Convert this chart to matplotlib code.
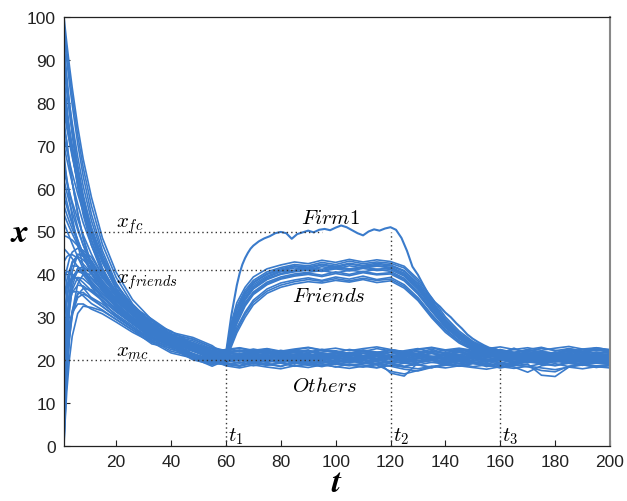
import matplotlib
matplotlib.use('Agg')
import matplotlib.pyplot as plt

plt.rcParams['mathtext.fontset'] = 'cm'
plt.rcParams['font.family'] = ['Liberation Sans', 'DejaVu Sans']

# ---------------- data ----------------
t_early = [1, 2, 3, 4, 6, 8, 11, 15, 20, 26, 33, 40, 48, 55]
t_late_others = list(range(60, 201, 5))
t_late_friends = [60, 62, 64, 67] + list(range(70, 201, 5))
t_late_firm = [60, 61, 62, 63, 64, 65, 66, 67, 68, 69] + list(range(70, 201, 2))

others_early = [
    [100, 94, 88.5, 83.5, 74.5, 66.9, 58, 48.5, 40.5, 34.1, 29.4, 25.8, 23.9, 21.9],
    [92, 84.5, 78, 72.5, 63, 55.8, 48, 40.7, 35.1, 30.7, 26.8, 25.3, 22.5, 21.4],
    [84, 78, 72.8, 68.3, 60.7, 54.6, 48, 41.2, 35.8, 31.6, 28.4, 25.3, 24.1, 22.2],
    [76, 70.5, 65.7, 61.4, 54.3, 48.6, 42.4, 37.1, 32.7, 29.0, 25.4, 24.1, 21.3, 20.2],
    [68, 62.2, 57.4, 53.3, 46.9, 42, 37.1, 33.6, 30.4, 27.6, 24.3, 23.3, 20.5, 19.4],
    [60, 57, 54.4, 52, 47.8, 44.2, 40.1, 36, 32.5, 29.2, 26.4, 23.7, 22.5, 20.6],
    [52, 50.3, 48.7, 47.1, 44.1, 41.3, 37.9, 34.9, 31.6, 28.5, 25.0, 23.8, 20.9, 19.8],
    [46, 45.3, 44.5, 43.7, 41.8, 39.9, 37.5, 34.8, 31.9, 29.0, 26.4, 23.7, 22.5, 20.6],
    [40, 40.6, 40.6, 40.1, 38.7, 36.9, 34.5, 32.5, 30.1, 27.5, 24.3, 23.3, 20.5, 19.4],
    [34, 38.6, 41, 42, 41.9, 40.6, 38.4, 35.5, 32.5, 29.5, 26.9, 24.1, 22.9, 21],
    [28, 36.2, 40.7, 43, 44.2, 43.4, 41.4, 37.8, 34.3, 31, 27.5, 26.1, 23.3, 22.2],
    [22, 33, 39.2, 42.5, 44.7, 44.2, 42.3, 38.5, 34.9, 31.5, 28.7, 25.7, 24.5, 22.6],
    [16, 28.2, 35.1, 38.9, 41.4, 41.1, 39.3, 36.3, 33.1, 30, 26.6, 25.3, 22.5, 21.4],
    [10, 26.2, 35.5, 40.7, 44.6, 44.8, 43.2, 39.3, 35.5, 32, 29.1, 26.1, 24.9, 23],
    [4, 21.4, 31.4, 37.1, 41.4, 41.7, 40.2, 37, 33.7, 30.5, 27.0, 25.7, 22.9, 21.8],
    [0, 16.6, 26.2, 31.5, 35.6, 35.8, 34.2, 32.5, 30.1, 27.5, 25.1, 22.5, 21.3, 19.4],
    [82, 77.7, 73.7, 70.1, 63.5, 57.8, 51, 43.9, 37.6, 32.4, 27.7, 25.8, 22.7, 21.5],
    [62, 59.2, 56.7, 54.4, 50.3, 46.9, 42.9, 38.2, 34.3, 30.7, 27.8, 24.9, 23.7, 21.8],
    [35, 37.3, 38.6, 39.2, 39.2, 38.1, 36.2, 34, 31.3, 28.5, 25.2, 24.1, 21.3, 20.2],
    [18, 29, 35.2, 38.5, 40.7, 40.2, 38.3, 35.5, 32.5, 29.5, 26.1, 24.9, 22.1, 21],
    [2, 15.7, 25, 31.2, 37.8, 40, 40.1, 37.5, 34.3, 31, 28.2, 25.3, 24.1, 22.2],
    [98, 92, 86.5, 81.5, 72.5, 64.9, 56, 47, 39.3, 33.1, 28.6, 25.0, 23.2, 21.2],
    [94, 86.4, 79.8, 74, 64.5, 57.1, 49.2, 41.5, 35.7, 31.3, 27.6, 25.0, 23.6, 21.8],
    [90, 84.7, 79.8, 75.3, 67.4, 60.6, 52.5, 44.6, 37.7, 32.1, 27.5, 24.5, 22.4, 20.7],
    [86, 79.5, 73.7, 68.7, 60.4, 53.9, 46.8, 40.1, 34.8, 30.6, 27.4, 24.6, 23.2, 21.4],
    [78, 74.2, 70.7, 67.4, 61.5, 56.4, 50.3, 43.4, 37.5, 32.5, 28.1, 25.9, 23.3, 21.9],
    [74, 71.2, 66.1, 61.6, 54.2, 48.3, 41.8, 36.6, 32.2, 28.5, 25.6, 23.0, 21.6, 19.8],
    [70, 66.9, 64, 61.3, 56.4, 52, 46.8, 41, 35.9, 31.5, 27.4, 25.4, 22.8, 21.4],
    [66, 62.3, 59, 56.1, 51, 46.8, 42, 37.4, 33.3, 29.8, 26.8, 24.2, 22.9, 21],
    [58, 55.8, 53.7, 51.7, 48.1, 44.7, 40.7, 36.7, 32.9, 29.4, 25.8, 24.1, 21.5, 20.2],
    [54, 52.4, 50.9, 49.5, 46.8, 44.3, 41.3, 37.4, 33.9, 30.6, 27.7, 25.1, 23.6, 21.8],
    [30, 34.7, 37.7, 39.5, 40.8, 40.4, 39, 36.2, 33.1, 30, 27.3, 24.6, 23.2, 21.4],
    [12, 25, 32.4, 36.4, 39.3, 39, 37.3, 34.8, 31.9, 29, 26.3, 23.8, 22.4, 20.6],
]

others_late = [
    [21.3, 20.8, 21.5, 20.6, 21.9, 20.7, 21.2, 20.1, 21.0, 21.6, 20.4, 21.1, 20.2, 21.4, 20.6, 21.8, 20.3, 21.2, 20.5, 21.7, 20.9, 20.1, 21.5, 20.6, 21.9, 20.8, 21.3, 20.2, 21.0],
    [20.4, 19.8, 20.6, 19.5, 20.2, 19.1, 20.5, 19.7, 20.9, 19.9, 19.2, 20.4, 19.6, 20.8, 19.4, 20.1, 19.0, 19.9, 20.7, 19.5, 20.3, 19.2, 20.0, 19.6, 20.5, 19.3, 20.1, 19.8, 20.4],
    [21.6, 22.2, 21.3, 22.5, 21.1, 21.9, 22.4, 21.2, 21.8, 20.9, 22.1, 21.5, 22.3, 21.0, 21.7, 22.6, 21.4, 22.0, 21.1, 22.3, 21.6, 22.8, 21.5, 22.1, 21.3, 22.4, 21.8, 22.6, 21.9],
    [19.6, 20.3, 19.4, 19.9, 20.5, 19.2, 19.8, 20.4, 19.5, 20.1, 19.3, 19.9, 17.0, 16.3, 19.4, 20.0, 19.3, 20.2, 19.6, 19.1, 20.0, 19.4, 20.3, 19.0, 19.7, 20.2, 19.5, 19.9, 19.6],
    [18.9, 19.5, 18.7, 19.3, 18.5, 19.6, 18.8, 19.2, 18.4, 19.1, 18.9, 18.3, 19.4, 18.6, 19.0, 18.2, 19.3, 18.7, 19.5, 18.5, 19.1, 18.4, 17.2, 18.7, 19.2, 18.5, 19.0, 18.3, 18.8],
    [20.9, 20.2, 21.0, 20.4, 20.8, 19.9, 20.6, 21.2, 20.3, 20.7, 20.0, 21.1, 20.5, 20.2, 20.9, 20.3, 20.8, 21.3, 20.4, 20.0, 20.7, 21.2, 20.3, 20.9, 20.1, 20.6, 21.1, 20.4, 20.8],
    [19.5, 20.0, 19.2, 19.8, 19.4, 20.1, 19.3, 19.7, 19.0, 19.6, 19.9, 19.2, 19.7, 19.4, 18.9, 19.5, 19.8, 19.1, 19.6, 19.3, 18.7, 19.4, 19.9, 19.2, 18.8, 19.6, 19.1, 19.5, 19.2],
    [20.3, 21.0, 20.6, 21.3, 20.5, 20.9, 21.4, 20.7, 21.2, 20.4, 20.9, 21.5, 20.8, 20.3, 21.1, 20.6, 21.3, 20.9, 20.2, 21.0, 20.5, 21.4, 20.7, 21.1, 20.4, 21.2, 20.8, 21.5, 20.9],
    [19.0, 18.6, 19.3, 18.8, 19.5, 18.7, 19.1, 18.5, 19.2, 18.9, 18.4, 19.0, 18.6, 17.9, 17.5, 18.3, 18.8, 19.2, 18.5, 18.9, 18.2, 18.7, 19.1, 16.5, 16.2, 18.4, 18.9, 18.5, 18.7],
    [20.6, 21.3, 20.8, 21.6, 20.9, 21.4, 21.0, 21.7, 21.2, 20.8, 21.5, 21.1, 21.8, 21.3, 20.9, 21.6, 21.2, 21.9, 21.4, 21.0, 21.7, 21.3, 22.0, 21.5, 21.1, 21.8, 21.4, 21.9, 21.6],
    [21.8, 21.2, 22.0, 21.5, 22.3, 21.7, 21.1, 21.9, 22.2, 21.6, 21.0, 21.8, 22.4, 21.9, 21.3, 22.1, 21.6, 21.2, 22.0, 21.7, 22.5, 21.8, 21.3, 22.0, 21.6, 22.7, 22.1, 21.5, 22.2],
    [22.3, 21.9, 22.6, 22.0, 21.5, 22.3, 21.8, 22.5, 22.0, 21.6, 22.4, 21.9, 21.3, 22.2, 22.7, 21.8, 22.4, 21.9, 22.6, 22.1, 21.7, 22.5, 22.0, 22.8, 22.3, 21.9, 22.6, 22.2, 22.5],
    [20.8, 20.1, 20.7, 19.9, 20.4, 20.9, 20.2, 20.6, 19.8, 20.3, 20.8, 20.1, 20.5, 19.7, 20.3, 20.9, 20.0, 20.4, 19.8, 20.6, 20.2, 19.6, 20.4, 20.0, 20.7, 19.9, 20.3, 20.6, 20.1],
    [22.2, 22.8, 22.1, 22.6, 21.9, 22.4, 22.9, 22.3, 21.8, 22.5, 22.0, 22.7, 22.2, 21.7, 22.4, 22.9, 22.1, 22.6, 22.0, 22.8, 22.3, 21.8, 22.5, 23.0, 22.2, 22.7, 22.1, 22.9, 22.4],
    [21.1, 20.6, 21.4, 20.8, 21.2, 20.5, 21.0, 21.5, 20.7, 21.3, 20.6, 21.1, 20.4, 21.0, 21.4, 20.8, 21.2, 20.5, 21.1, 20.7, 21.4, 20.9, 20.5, 21.2, 20.8, 21.5, 20.9, 21.3, 20.7],
    [19.3, 18.8, 19.5, 19.0, 18.6, 19.4, 18.9, 19.6, 19.1, 18.7, 19.3, 18.9, 17.4, 16.8, 17.6, 18.5, 19.0, 18.6, 19.3, 18.8, 19.4, 18.9, 18.5, 19.2, 18.7, 19.3, 18.8, 19.4, 19.0],
    [20.9, 21.5, 20.7, 21.2, 20.5, 21.1, 20.6, 21.4, 20.8, 21.3, 20.5, 21.0, 20.7, 21.5, 20.9, 20.4, 21.2, 20.7, 21.3, 20.6, 21.0, 20.5, 21.2, 20.8, 21.4, 20.6, 21.1, 20.7, 21.2],
    [21.4, 20.9, 21.6, 21.0, 21.5, 21.9, 21.2, 20.8, 21.6, 21.1, 21.7, 21.3, 20.9, 21.5, 21.0, 21.6, 21.2, 21.8, 21.4, 20.9, 21.5, 21.1, 21.7, 21.2, 20.8, 21.4, 21.0, 21.6, 21.3],
    [19.8, 20.4, 19.7, 20.2, 19.5, 20.0, 19.6, 20.3, 19.8, 19.4, 20.1, 19.7, 20.4, 19.9, 19.5, 20.2, 19.8, 19.3, 20.0, 19.6, 20.3, 19.8, 19.4, 20.1, 19.6, 20.2, 19.7, 19.3, 19.9],
    [20.5, 19.9, 20.6, 20.1, 19.7, 20.4, 20.0, 20.7, 20.2, 19.8, 20.5, 20.0, 19.6, 20.3, 19.9, 20.6, 20.1, 19.7, 20.4, 19.9, 20.5, 20.1, 19.6, 20.3, 19.8, 20.5, 20.0, 20.4, 20.1],
    [21.7, 22.1, 21.5, 21.9, 21.3, 21.8, 22.2, 21.6, 21.1, 21.7, 22.0, 21.4, 21.9, 21.5, 22.1, 21.6, 21.2, 21.8, 21.4, 22.0, 21.5, 21.1, 21.7, 21.3, 21.9, 21.5, 22.1, 21.6, 21.9],
    [20.7, 21.3, 20.5, 21.0, 20.3, 21.2, 20.8, 20.2, 20.9, 21.4, 20.6, 21.0, 20.4, 20.9, 21.5, 20.7, 21.1, 20.3, 20.8, 21.3, 20.6, 21.1, 20.4, 21.0, 20.5, 21.3, 20.7, 21.1, 20.5],
    [22.0, 21.4, 22.2, 21.7, 21.2, 22.0, 21.5, 22.3, 21.8, 21.3, 22.1, 21.6, 22.4, 21.9, 21.4, 22.2, 21.7, 22.5, 21.9, 21.4, 22.0, 21.6, 22.3, 21.8, 21.4, 22.1, 21.7, 22.4, 21.9],
    [19.9, 19.3, 20.0, 19.5, 20.3, 19.7, 19.2, 19.9, 19.4, 20.1, 19.6, 19.0, 19.8, 19.3, 20.0, 19.5, 19.1, 19.7, 19.3, 20.0, 19.4, 18.9, 19.6, 19.2, 19.8, 19.3, 19.0, 19.7, 19.4],
    [20.2, 20.8, 20.1, 20.6, 19.9, 20.5, 20.9, 20.3, 20.7, 20.0, 20.6, 20.2, 19.2, 18.4, 19.5, 20.3, 20.7, 20.1, 20.6, 20.0, 20.4, 20.8, 20.2, 20.7, 20.0, 20.5, 20.9, 20.3, 20.6],
    [22.5, 22.9, 22.3, 22.7, 22.1, 22.6, 23.0, 22.4, 22.8, 22.2, 22.7, 23.1, 22.5, 22.0, 22.6, 23.0, 22.4, 22.8, 22.3, 22.7, 23.1, 22.5, 22.9, 22.3, 22.8, 23.2, 22.6, 22.9, 22.4],
    [19.2, 18.7, 19.4, 18.9, 19.3, 18.6, 19.1, 18.8, 19.4, 18.9, 18.5, 19.2, 18.7, 19.3, 18.9, 18.4, 19.0, 18.6, 19.2, 18.8, 18.3, 18.9, 18.5, 17.6, 17.3, 18.6, 19.1, 18.7, 19.0],
    [20.8, 21.4, 21.0, 21.7, 21.1, 20.7, 21.3, 20.9, 21.6, 21.2, 20.8, 21.5, 21.0, 21.6, 21.2, 20.8, 21.4, 21.0, 21.7, 21.2, 20.9, 21.5, 21.1, 21.7, 21.3, 20.9, 21.5, 21.1, 21.4],
    [19.7, 20.2, 19.6, 20.1, 19.5, 20.0, 19.7, 19.3, 19.9, 19.5, 20.1, 19.6, 19.2, 19.8, 19.4, 20.0, 19.5, 19.9, 19.3, 19.8, 19.5, 19.1, 19.7, 19.3, 19.9, 19.5, 19.2, 19.8, 19.5],
    [18.7, 18.2, 18.9, 18.4, 18.0, 18.7, 18.3, 18.9, 18.5, 18.1, 18.6, 18.2, 18.8, 18.4, 18.0, 18.6, 18.2, 18.7, 18.3, 17.9, 18.5, 18.1, 18.6, 18.2, 17.8, 18.4, 18.0, 18.5, 18.2],
    [21.2, 20.7, 21.3, 20.9, 21.5, 21.0, 20.6, 21.2, 20.8, 21.4, 20.9, 20.5, 21.1, 20.7, 21.3, 20.9, 20.4, 21.0, 20.6, 21.2, 20.8, 20.4, 21.0, 20.7, 21.3, 20.8, 20.5, 21.1, 20.8],
    [20.1, 20.6, 20.0, 20.5, 20.9, 20.3, 20.7, 20.1, 20.6, 20.2, 20.8, 20.3, 20.7, 20.1, 20.5, 20.0, 20.6, 20.2, 20.8, 20.3, 19.9, 20.5, 20.1, 20.6, 20.2, 20.7, 20.3, 19.9, 20.4],
    [21.9, 22.4, 21.8, 22.2, 21.7, 22.3, 21.9, 22.5, 22.0, 21.6, 22.2, 21.8, 22.4, 22.0, 21.5, 22.1, 21.7, 22.3, 21.9, 21.5, 22.2, 21.8, 22.4, 22.0, 21.6, 22.3, 21.9, 22.5, 22.1],
]

friends_early = [
    [96, 90, 84.5, 79.5, 70.5, 62.9, 54, 45.5, 38, 32.1, 27.7, 24.1, 22.4, 20.4],
    [88, 82.7, 77.8, 73.4, 65.4, 58.6, 50.5, 43.1, 36.5, 31.1, 26.2, 24.4, 21.2, 19.9],
    [72, 69, 66.2, 63.6, 58.8, 54.6, 49.5, 43.1, 37.6, 32.9, 28.6, 26.8, 23.8, 22.7],
    [64, 61.5, 59.2, 56.9, 52.9, 49.2, 44.7, 39.7, 35.1, 31.1, 27.9, 24.7, 23.4, 21.4],
    [56, 54, 52.2, 50.6, 47.6, 45, 42, 38, 34.3, 31, 27.4, 26.1, 23.3, 22.2],
    [49, 48.8, 48.4, 48, 46.7, 45.2, 43.1, 39.1, 35.5, 32, 29.2, 26.1, 24.9, 23],
    [43, 44.1, 44.6, 44.6, 43.8, 42.4, 40.3, 37, 33.7, 30.5, 27.0, 25.7, 22.9, 21.8],
    [37, 41.1, 43.7, 45.2, 46.1, 45.6, 44, 39.9, 36.1, 32.5, 29.6, 26.5, 25.3, 23.4],
    [31, 33.6, 35.1, 35.9, 36, 35, 33.2, 31.7, 29.5, 27, 23.8, 22.9, 20.1, 19],
    [25, 30.3, 33.7, 35.8, 37.5, 37.3, 35.9, 33.9, 31.3, 28.5, 26.0, 23.3, 22.1, 20.2],
    [19, 24.9, 28.7, 31.1, 33.1, 33.1, 31.9, 30.8, 28.9, 26.5, 24.2, 21.7, 20.5, 18.6],
    [13, 21.6, 27.3, 31, 34.6, 35.4, 34.6, 33.1, 30.7, 28, 24.7, 23.7, 20.9, 19.8],
    [7, 18, 25.4, 30.3, 35.3, 36.7, 36.4, 34.5, 31.9, 29, 26.4, 23.7, 22.5, 20.6],
    [1, 12.6, 20.4, 25.6, 30.9, 32.6, 32.3, 31.5, 29.5, 27, 24.6, 22.1, 20.9, 19],
]

friends_late = [
    [20.6, 28.0, 32.5, 36.3, 38.6, 40.6, 41.6, 42.3, 42.0, 42.8, 42.3, 43.1, 42.5, 42.9, 42.6, 41.5, 38.4, 34.0, 29.6, 26.4, 24.1, 22.7, 21.6, 21.0, 20.6, 20.9, 20.2, 20.7, 20.1, 20.5, 20.3],
    [20.4, 24.1, 27.6, 31.2, 34.0, 36.6, 38.0, 38.7, 39.2, 38.6, 39.4, 38.9, 39.6, 38.8, 39.3, 37.6, 34.6, 30.7, 27.2, 24.6, 22.8, 21.8, 21.0, 20.4, 20.1, 20.5, 19.8, 20.2, 19.6, 20.0, 19.7],
    [21.0, 26.8, 30.6, 34.5, 37.2, 39.3, 40.6, 41.0, 41.6, 41.2, 41.9, 41.3, 41.7, 42.1, 41.4, 40.0, 37.0, 32.8, 28.7, 25.8, 23.7, 22.4, 21.5, 20.9, 20.7, 20.3, 20.8, 20.4, 20.9, 20.5, 20.6],
    [20.9, 25.5, 29.4, 33.4, 35.9, 38.2, 39.4, 40.1, 40.5, 40.9, 40.3, 41.0, 40.6, 41.2, 40.7, 39.1, 36.0, 31.9, 28.0, 25.3, 23.3, 22.1, 21.2, 20.6, 20.2, 20.6, 20.0, 20.4, 19.8, 20.3, 20.0],
    [21.2, 27.4, 31.7, 35.5, 38.0, 40.0, 41.0, 41.8, 41.4, 42.2, 41.6, 42.4, 41.9, 42.3, 42.0, 40.7, 37.7, 33.4, 29.1, 26.1, 23.9, 22.6, 21.7, 21.1, 20.8, 21.2, 20.6, 21.0, 20.5, 20.9, 20.6],
    [20.2, 23.2, 26.4, 30.0, 32.9, 35.6, 37.0, 37.8, 38.3, 38.0, 38.6, 38.2, 38.8, 38.1, 38.5, 36.8, 33.9, 29.9, 26.5, 24.0, 22.4, 21.4, 20.7, 20.2, 19.9, 20.3, 19.6, 20.0, 19.5, 19.9, 19.6],
    [21.3, 28.8, 33.4, 37.0, 39.4, 41.3, 42.2, 42.9, 42.5, 43.3, 42.8, 43.5, 42.9, 43.4, 43.0, 41.9, 38.9, 34.6, 30.1, 26.8, 24.4, 22.9, 21.8, 21.2, 20.9, 20.5, 21.0, 20.6, 21.1, 20.7, 20.8],
    [21.1, 26.1, 30.0, 34.0, 36.6, 38.8, 40.0, 40.6, 41.0, 40.7, 41.3, 40.8, 41.4, 40.9, 41.1, 39.6, 36.5, 32.3, 28.3, 25.5, 23.5, 22.2, 21.3, 20.8, 20.4, 20.1, 20.6, 20.2, 20.7, 20.3, 20.4],
    [19.8, 24.6, 28.5, 32.6, 35.3, 37.6, 38.9, 39.6, 40.0, 39.5, 40.2, 39.7, 40.4, 39.9, 40.1, 38.5, 35.4, 31.4, 27.8, 25.0, 23.0, 21.9, 21.0, 20.3, 20.0, 19.6, 20.1, 19.7, 20.2, 19.8, 19.9],
    [20.7, 27.0, 31.0, 35.0, 37.6, 39.6, 40.8, 41.5, 41.1, 41.8, 41.3, 42.0, 41.5, 41.9, 41.7, 40.3, 37.3, 33.1, 28.9, 25.9, 23.8, 22.5, 21.6, 21.0, 20.5, 20.9, 20.3, 20.7, 20.2, 20.6, 20.4],
    [20.0, 23.7, 27.0, 30.7, 33.5, 36.1, 37.5, 38.3, 38.8, 38.4, 39.0, 38.5, 39.1, 38.6, 38.9, 37.2, 34.2, 30.3, 26.9, 24.3, 22.6, 21.6, 20.8, 20.3, 20.0, 19.5, 19.9, 19.4, 19.8, 19.3, 19.6],
    [21.5, 27.6, 31.9, 35.8, 38.2, 40.2, 41.3, 42.0, 41.7, 42.4, 41.9, 42.6, 42.1, 42.6, 42.2, 40.9, 37.9, 33.6, 29.4, 26.2, 24.0, 22.7, 21.8, 21.3, 20.9, 21.3, 20.8, 21.1, 20.6, 21.0, 20.7],
    [19.9, 25.0, 28.9, 33.0, 35.6, 37.9, 39.1, 39.8, 40.3, 39.8, 40.6, 40.0, 40.7, 40.1, 40.4, 38.8, 35.7, 31.6, 27.6, 25.1, 23.1, 22.0, 21.1, 20.5, 20.2, 19.8, 20.3, 19.9, 20.4, 20.0, 20.1],
    [20.5, 26.4, 30.3, 34.3, 36.9, 39.0, 40.2, 40.9, 41.3, 40.9, 41.6, 41.1, 41.7, 41.2, 41.5, 39.9, 36.8, 32.6, 28.5, 25.6, 23.6, 22.3, 21.4, 20.8, 20.5, 20.9, 20.4, 20.8, 20.2, 20.6, 20.3],
]

firm_early = [80, 75.8, 71.9, 68.3, 61.9, 56.3, 49.7, 42.8, 36.8, 31.8, 27.2, 25.4, 22.3, 21.1]
firm_late = [21.5, 26, 30.5, 34, 37.5, 40.2, 42.3, 43.8, 45, 46,
             46.7, 47.7, 48.4, 48.9, 49.6, 49.9, 49.6, 48.3, 49.4, 49.8,
             50.2, 49.8, 50.4, 50.6, 50.3, 50.9, 51.4, 51.0, 50.3, 49.6,
             49.1, 50.0, 50.5, 50.2, 50.7, 51.0, 50.4, 48.5, 45.5, 41.8,
             39.9, 37.5, 35.2, 33.6, 32.5, 31.1, 30.0, 28.6, 27.4, 26.0,
             25.0, 24.2, 23.5, 22.9, 22.7, 22.2, 21.6, 21.3, 20.9, 21.2,
             20.6, 20.9, 20.3, 20.7, 20.1, 20.5, 19.9, 20.4, 20.0, 20.6,
             20.2, 19.8, 20.3, 19.9, 20.4, 20.1]

x_fc, x_friends, x_mc = 50, 41, 20
t_marks = [60, 120, 160]
t_mark_tops = [20, 50, 20]
ref_line_end = 95

# ---------------- figure ----------------
blue = '#3a7bcb'
fig = plt.figure(figsize=(6.27, 5.02), dpi=100)
ax = fig.add_axes([64 / 627, 1 - 447 / 502, 546 / 627, 429 / 502])

for e, l in zip(others_early, others_late):
    ax.plot(t_early + t_late_others, e + l, color=blue, lw=1.2, zorder=2)
for e, l in zip(friends_early, friends_late):
    ax.plot(t_early + t_late_friends, e + l, color=blue, lw=1.2, zorder=2)
ax.plot(t_early + t_late_firm, firm_early + firm_late, color=blue, lw=1.5, zorder=2.5)

dot_kw = dict(color='#333333', lw=1.0, ls=(0, (1, 2.2)), zorder=3)
for lvl in (x_fc, x_friends, x_mc):
    ax.plot([1, ref_line_end], [lvl, lvl], **dot_kw)
for tm, top in zip(t_marks, t_mark_tops):
    ax.plot([tm, tm], [0, top], **dot_kw)

tx = dict(fontsize=15, zorder=4)
ax.text(20, 51.2, r'$x_{fc}$', ha='left', va='baseline', **tx)
ax.text(20, 38.2, r'$x_{friends}$', ha='left', va='baseline', **tx)
ax.text(20, 21.2, r'$x_{mc}$', ha='left', va='baseline', **tx)
ax.text(98, 52.0, r'$Firm1$', ha='center', va='baseline', **tx)
ax.text(97.5, 33.9, r'$Friends$', ha='center', va='baseline', **tx)
ax.text(96, 12.9, r'$Others$', ha='center', va='baseline', **tx)
for i, tm in enumerate(t_marks):
    ax.text(tm + 0.8, 1.2, r'$t_{%d}$' % (i + 1), ha='left', va='baseline', **tx)

ax.set_xlim(1, 200)
ax.set_ylim(0, 100)
ax.set_xticks(range(20, 201, 20))
ax.set_yticks(range(0, 101, 10))
ax.tick_params(direction='in', length=4, width=0.8, labelsize=12.5,
               pad=6, colors='#222222')
for s in ax.spines.values():
    s.set_linewidth(0.9)
    s.set_color('#222222')
ax.spines['right'].set_color('#888888')
ax.spines['right'].set_linewidth(1.5)

fig.text(20 / 627, 1 - 233 / 502, r'$\mathbfit{x}$', fontsize=24,
         ha='center', va='center', math_fontfamily='stix')
fig.text(337 / 627, 1 - 484 / 502, r'$\mathbfit{t}$', fontsize=24,
         ha='center', va='center', math_fontfamily='stix')

fig.savefig('out.png', dpi=100)
